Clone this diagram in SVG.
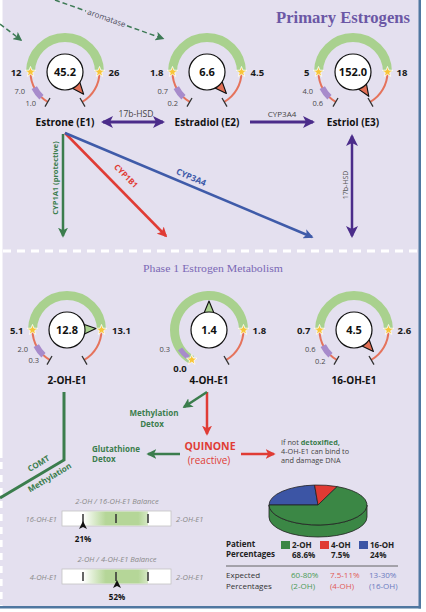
<svg xmlns="http://www.w3.org/2000/svg" xmlns:xlink="http://www.w3.org/1999/xlink" width="426" height="612" viewBox="0 0 426 612">
<style>
.t{font-family:"Open Sans","Liberation Sans",sans-serif}
.val{font-family:"Open Sans","Liberation Sans",sans-serif;font-weight:700;font-size:9.5px;fill:#1a1a1a}
.cv{font-family:"Open Sans","Liberation Sans",sans-serif;font-weight:700;font-size:11px;fill:#111;text-anchor:middle}
.sm{font-family:"Open Sans","Liberation Sans",sans-serif;font-size:7.5px;fill:#4a4a4a;text-anchor:end}
.nm{font-family:"Open Sans","Liberation Sans",sans-serif;font-weight:700;font-size:10px;fill:#111;text-anchor:middle}
.band{fill:none;stroke:#a9d18e;stroke-width:9}
.thin{fill:none;stroke:#e5735c;stroke-width:2}
.pur{fill:none;stroke:#a78bcb;stroke-width:6}
.tick{fill:none;stroke:#333;stroke-width:1.3}
.dial{fill:#fff;stroke:#111;stroke-width:1.2}
.ptr-r{fill:#e36f55;stroke:#111;stroke-width:1.1;stroke-linejoin:round}
.ptr-g{fill:#a9d18e;stroke:#111;stroke-width:1.1;stroke-linejoin:round}
.bal{font-family:"Open Sans","Liberation Sans",sans-serif;font-style:italic;font-size:7.5px;fill:#8a8a8a}
.lg{font-family:"Open Sans","Liberation Sans",sans-serif;font-size:8px}
</style>
<defs>
<path id="star" d="M0,-5.5 L1.35,-1.86 L5.23,-1.7 L2.19,0.71 L3.23,4.45 L0,2.3 L-3.23,4.45 L-2.19,0.71 L-5.23,-1.7 L-1.35,-1.86 Z" fill="#f8c537" stroke="#fff" stroke-width="0.8"/>
<g id="gauge-std">
<path class="band" d="M-34.5,0 A34.5,34.5 0 0 1 34.5,0"/>
<path class="thin" d="M-17.25,29.88 A34.5,34.5 0 0 1 -34.5,0"/>
<path class="thin" d="M34.5,0 A34.5,34.5 0 0 1 17.25,29.88"/>
<path class="pur" d="M-23.53,25.23 A34.5,34.5 0 0 1 -30.74,15.66"/>
<path class="tick" d="M-15,25.98 L-20,34.64 M15,25.98 L20,34.64"/>
<use xlink:href="#star" x="-34.5" y="0"/>
<use xlink:href="#star" x="34.5" y="0"/>
</g>
<marker id="aP" viewBox="0 0 12 12" markerWidth="12" markerHeight="12" refX="10" refY="6" orient="auto-start-reverse" markerUnits="userSpaceOnUse"><path d="M0,0 L12,6 L0,12 L3,6 Z" fill="#4b2c8a"/></marker>
<marker id="aG" viewBox="0 0 12 12" markerWidth="10" markerHeight="10" refX="10" refY="6" orient="auto-start-reverse" markerUnits="userSpaceOnUse"><path d="M0,0 L12,6 L0,12 L3,6 Z" fill="#3b7d4d"/></marker>
<marker id="aR" viewBox="0 0 12 12" markerWidth="10" markerHeight="10" refX="10" refY="6" orient="auto-start-reverse" markerUnits="userSpaceOnUse"><path d="M0,0 L12,6 L0,12 L3,6 Z" fill="#e03c35"/></marker>
<marker id="aB" viewBox="0 0 12 12" markerWidth="10" markerHeight="10" refX="10" refY="6" orient="auto-start-reverse" markerUnits="userSpaceOnUse"><path d="M0,0 L12,6 L0,12 L3,6 Z" fill="#3f5ba9"/></marker>
<marker id="aD" viewBox="0 0 12 12" markerWidth="9" markerHeight="9" refX="10" refY="6" orient="auto-start-reverse" markerUnits="userSpaceOnUse"><path d="M0,0 L12,6 L0,12 L3,6 Z" fill="#3d7a55"/></marker>
<linearGradient id="gr" x1="0" x2="1" y1="0" y2="0">
<stop offset="0" stop-color="#b5d698" stop-opacity="0"/>
<stop offset="0.35" stop-color="#b5d698" stop-opacity="1"/>
<stop offset="0.85" stop-color="#b5d698" stop-opacity="1"/>
<stop offset="1" stop-color="#b5d698" stop-opacity="0.55"/>
</linearGradient>
</defs>

<!-- background -->
<rect x="0" y="0" width="426" height="612" fill="#fff"/>
<rect x="0" y="0" width="419" height="606.5" fill="#e4e0ef"/>
<rect x="418.5" y="0" width="2.5" height="608.5" fill="#4f77a0"/>
<rect x="0" y="606" width="421" height="2.5" fill="#4f77a0"/>
<rect x="0" y="0" width="2.5" height="458" fill="#fff"/>
<line x1="1.3" y1="462" x2="1.3" y2="606" stroke="#fff" stroke-width="2.6" stroke-dasharray="7,6"/>
<line x1="3" y1="251" x2="419" y2="251" stroke="#fff" stroke-width="2.8" stroke-dasharray="8,6"/>

<text x="410" y="23" text-anchor="end" font-family="'Liberation Serif',serif" font-weight="700" font-size="16.5" fill="#6b57a5" textLength="134" lengthAdjust="spacingAndGlyphs">Primary Estrogens</text>
<text x="213" y="272" text-anchor="middle" font-family="'Liberation Serif',serif" font-size="11" fill="#7b68b5" textLength="140" lengthAdjust="spacingAndGlyphs">Phase 1 Estrogen Metabolism</text>

<!-- connectors -->
<g id="connectors">
<path d="M0,24 L21,40" stroke="#3d7a55" stroke-width="1.5" stroke-dasharray="5,3" fill="none" marker-end="url(#aD)"/>
<path d="M55,0 L86,11" stroke="#3d7a55" stroke-width="1.5" stroke-dasharray="5,3" fill="none"/>
<path d="M127,25.8 L163,38.6" stroke="#3d7a55" stroke-width="1.5" stroke-dasharray="5,3" fill="none" marker-end="url(#aD)"/>
<text class="t" transform="translate(106.5,18.5) rotate(19.5)" x="0" y="2.5" text-anchor="middle" font-size="8" fill="#4a4a5a">aromatase</text>

<line x1="103" y1="122" x2="163" y2="122" stroke="#4b2c8a" stroke-width="3" marker-start="url(#aP)" marker-end="url(#aP)"/>
<text class="t" x="136" y="117" text-anchor="middle" font-size="8.5" fill="#444">17b-HSD</text>
<line x1="250" y1="122" x2="313" y2="122" stroke="#4b2c8a" stroke-width="3" marker-end="url(#aP)"/>
<text class="t" x="282" y="117" text-anchor="middle" font-size="8" fill="#444">CYP3A4</text>

<line x1="63" y1="134" x2="63" y2="236" stroke="#3b7d4d" stroke-width="2.5" marker-end="url(#aG)"/>
<text class="t" transform="translate(58,178) rotate(-90)" text-anchor="middle" font-size="7.5" font-weight="700" fill="#3b7d4d">CYP1A1 (protective)</text>
<line x1="65" y1="133" x2="166" y2="236" stroke="#e03c35" stroke-width="2.5" marker-end="url(#aR)"/>
<text class="t" transform="translate(124,178) rotate(45.5)" text-anchor="middle" font-size="8" font-weight="700" fill="#e03c35">CYP1B1</text>
<line x1="65" y1="133" x2="312" y2="237" stroke="#3f5ba9" stroke-width="2.5" marker-end="url(#aB)"/>
<text class="t" transform="translate(190,180) rotate(22.8)" text-anchor="middle" font-size="8.5" font-weight="700" fill="#3f5ba9">CYP3A4</text>
<line x1="352" y1="136" x2="352" y2="236" stroke="#4b2c8a" stroke-width="2.5" marker-start="url(#aP)" marker-end="url(#aP)"/>
<text class="t" transform="translate(347.5,185) rotate(-90)" text-anchor="middle" font-size="7" fill="#555">17b-HSD</text>

<path d="M64,392 L64,460 L0,498" stroke="#3b7d4d" stroke-width="3" fill="none"/>
<text class="t" transform="translate(40,466) rotate(-31)" text-anchor="middle" font-size="8" font-weight="700" fill="#3b7d4d">COMT</text>
<text class="t" transform="translate(51,480) rotate(-31)" text-anchor="middle" font-size="8" font-weight="700" fill="#3b7d4d">Methylation</text>

<line x1="207" y1="392" x2="207" y2="434" stroke="#e03c35" stroke-width="2.5" marker-end="url(#aR)"/>
<line x1="207" y1="392" x2="184" y2="407" stroke="#3b7d4d" stroke-width="2.5" marker-end="url(#aG)"/>
<line x1="180" y1="454" x2="148" y2="454" stroke="#3b7d4d" stroke-width="2.5" marker-end="url(#aG)"/>
<line x1="241" y1="454" x2="274" y2="454" stroke="#e03c35" stroke-width="2.5" marker-end="url(#aR)"/>
</g>

<!-- Primary estrogen nodes -->
<g id="e1" transform="translate(65,72)">
<use xlink:href="#gauge-std"/>
<path class="ptr-r" d="M18.64,22.22 L14.42,9.01 L6.37,15.76 Z"/>
<circle class="dial" r="18"/>
<text class="cv" y="4">45.2</text>
<text class="val" x="-43.5" y="3.5" text-anchor="end">12</text>
<text class="val" x="43.5" y="3.5">26</text>
<text class="sm" x="-40" y="22">7.0</text>
<text class="sm" x="-29" y="34">1.0</text>
<text class="nm" y="53.5">Estrone (E1)</text>
</g>
<g id="e2" transform="translate(207,72)">
<use xlink:href="#gauge-std"/>
<path class="ptr-r" d="M19.4,21.55 L14.72,8.5 L6.91,15.53 Z"/>
<circle class="dial" r="18"/>
<text class="cv" y="4">6.6</text>
<text class="val" x="-43.5" y="3.5" text-anchor="end">1.8</text>
<text class="val" x="43.5" y="3.5">4.5</text>
<text class="sm" x="-39" y="22">0.7</text>
<text class="sm" x="-29" y="34">0.2</text>
<text class="nm" y="53.5">Estradiol (E2)</text>
</g>
<g id="e3" transform="translate(353,72)">
<use xlink:href="#gauge-std"/>
<path class="ptr-r" d="M15.79,24.32 L13.21,10.7 L4.4,16.42 Z"/>
<circle class="dial" r="18"/>
<text class="cv" y="3.5" font-size="9.5">152.0</text>
<text class="val" x="-43.5" y="3.5" text-anchor="end">5</text>
<text class="val" x="43.5" y="3.5">18</text>
<text class="sm" x="-40" y="22">4.0</text>
<text class="sm" x="-30" y="34">0.6</text>
<text class="nm" y="53.5">Estriol (E3)</text>
</g>

<!-- Phase 1 nodes -->
<g id="oh2" transform="translate(67,330)">
<use xlink:href="#gauge-std"/>
<path class="ptr-g" d="M28.96,-1.52 L15.87,-6.09 L16.42,4.4 Z"/>
<circle class="dial" r="18"/>
<text class="cv" y="4">12.8</text>
<text class="val" x="-43.5" y="3.5" text-anchor="end">5.1</text>
<text class="val" x="45" y="3.5">13.1</text>
<text class="sm" x="-39" y="22">2.0</text>
<text class="sm" x="-28" y="33">0.3</text>
<text class="nm" y="54">2-OH-E1</text>
</g>
<g id="oh4" transform="translate(209,330)">
<path class="band" d="M-17.25,29.88 A34.5,34.5 0 1 1 34.5,0"/>
<path class="thin" d="M34.5,0 A34.5,34.5 0 0 1 17.25,29.88"/>
<path class="pur" style="stroke-width:5" d="M-20.76,27.55 A34.5,34.5 0 0 1 -28.93,18.79"/>
<path class="tick" d="M15,25.98 L20,34.64"/>
<use xlink:href="#star" x="-17.25" y="29.88"/>
<use xlink:href="#star" x="34.5" y="0"/>
<path class="ptr-g" d="M0,-29 L-5.25,-16.17 L5.25,-16.17 Z"/>
<circle class="dial" r="18"/>
<text class="cv" y="4">1.4</text>
<text class="val" x="43.5" y="3.5">1.8</text>
<text class="val" x="-29" y="42" text-anchor="middle">0.0</text>
<text class="sm" x="-39" y="22">0.3</text>
<text class="nm" y="54">4-OH-E1</text>
</g>
<g id="oh16" transform="translate(354,330)">
<use xlink:href="#gauge-std"/>
<path class="ptr-r" d="M19.4,21.55 L14.72,8.5 L6.91,15.53 Z"/>
<circle class="dial" r="18"/>
<text class="cv" y="4">4.5</text>
<text class="val" x="-43.5" y="3.5" text-anchor="end">0.7</text>
<text class="val" x="43.5" y="3.5">2.6</text>
<text class="sm" x="-38.5" y="22">0.6</text>
<text class="sm" x="-28.5" y="34">0.2</text>
<text class="nm" y="54">16-OH-E1</text>
</g>

<!-- Detox / quinone nodes -->
<g id="methyl-detox">
<text class="t" x="154" y="416" text-anchor="middle" font-size="8" font-weight="700" fill="#3b7d4d">Methylation</text>
<text class="t" x="152" y="427" text-anchor="middle" font-size="8" font-weight="700" fill="#3b7d4d">Detox</text>
</g>
<g id="glut-detox">
<text class="t" x="92" y="452" font-size="8" font-weight="700" fill="#3b7d4d">Glutathione</text>
<text class="t" x="92" y="462" font-size="8" font-weight="700" fill="#3b7d4d">Detox</text>
</g>
<g id="quinone">
<text class="t" x="210" y="450" text-anchor="middle" font-size="10.5" font-weight="700" fill="#e03c35">QUINONE</text>
<text class="t" x="209" y="464" text-anchor="middle" font-size="10" fill="#e03c35">(reactive)</text>
</g>
<g id="dna-note" class="t" font-size="7.3" fill="#444">
<text x="281" y="445">If not <tspan font-weight="700" fill="#3b7d4d">detoxified,</tspan></text>
<text x="281" y="454">4-OH-E1 can bind to</text>
<text x="281" y="463">and damage DNA</text>
</g>

<!-- balance bars -->
<g id="balance-16">
<text class="bal" x="117" y="504" text-anchor="middle">2-OH / 16-OH-E1 Balance</text>
<text class="bal" x="57" y="522" text-anchor="end">16-OH-E1</text>
<text class="bal" x="176" y="522">2-OH-E1</text>
<rect x="62" y="511" width="109" height="15" fill="#fff" stroke="#c4c4c4" stroke-width="0.8"/>
<rect x="83" y="511.5" width="65" height="14" fill="url(#gr)"/>
<path d="M83,514 V523 M116,514 V523 M148,514 V523" stroke="#333" stroke-width="1.5"/>
<path d="M83,521 L87,529 L83,527 L79,529 Z" fill="#111"/>
<text class="t" x="83" y="542" text-anchor="middle" font-size="8" font-weight="700" fill="#111">21%</text>
</g>
<g id="balance-4">
<text class="bal" x="117" y="562" text-anchor="middle">2-OH / 4-OH-E1 Balance</text>
<text class="bal" x="57" y="580" text-anchor="end">4-OH-E1</text>
<text class="bal" x="176" y="580">2-OH-E1</text>
<rect x="62" y="569" width="109" height="15" fill="#fff" stroke="#c4c4c4" stroke-width="0.8"/>
<rect x="83" y="569.5" width="65" height="14" fill="url(#gr)"/>
<path d="M83,572 V581 M116,572 V581 M148,572 V581" stroke="#333" stroke-width="1.5"/>
<path d="M117,580 L121,588 L117,586 L113,588 Z" fill="#111"/>
<text class="t" x="117" y="600" text-anchor="middle" font-size="8" font-weight="700" fill="#111">52%</text>
</g>

<!-- pie chart -->
<g id="pie" stroke="#222" stroke-width="0.8" stroke-linejoin="round">
<path d="M269,505 L269,517 A49,20 0 0 0 367,517 L367,505 A49,20 0 0 1 269,505 Z" fill="#3b8745"/>
<path d="M318,505 L269,505 A49,20 0 0 1 314.58,485.05 Z" fill="#3c55a5"/>
<path d="M318,505 L314.58,485.05 A49,20 0 0 1 337.15,486.59 Z" fill="#e03a33"/>
<path d="M318,505 L337.15,486.59 A49,20 0 1 1 269,505 Z" fill="#3b8745"/>
</g>

<!-- legend -->
<g id="legend" class="lg">
<text x="226" y="547" font-weight="700" fill="#222">Patient</text>
<text x="226" y="557" font-weight="700" fill="#222">Percentages</text>
<rect x="281" y="541" width="9" height="8" fill="#3b8745"/>
<text x="292" y="548" font-weight="700" fill="#222">2-OH</text>
<text x="292" y="558" font-weight="700" fill="#222">68.6%</text>
<rect x="320" y="541" width="9" height="8" fill="#e03a33"/>
<text x="331" y="548" font-weight="700" fill="#222">4-OH</text>
<text x="331" y="558" font-weight="700" fill="#222">7.5%</text>
<rect x="359" y="541" width="9" height="8" fill="#3c55a5"/>
<text x="370" y="548" font-weight="700" fill="#222">16-OH</text>
<text x="370" y="558" font-weight="700" fill="#222">24%</text>
<line x1="226" y1="566" x2="398" y2="566" stroke="#555" stroke-width="0.9"/>
<text x="226" y="578" fill="#333">Expected</text>
<text x="226" y="589" fill="#333">Percentages</text>
<text x="291" y="578" fill="#4a9a55">60-80%</text>
<text x="291" y="589" fill="#4a9a55">(2-OH)</text>
<text x="330" y="578" fill="#e05a55">7.5-11%</text>
<text x="330" y="589" fill="#e05a55">(4-OH)</text>
<text x="369" y="578" fill="#6a7ac0">13-30%</text>
<text x="369" y="589" fill="#6a7ac0">(16-OH)</text>
</g>
</svg>
